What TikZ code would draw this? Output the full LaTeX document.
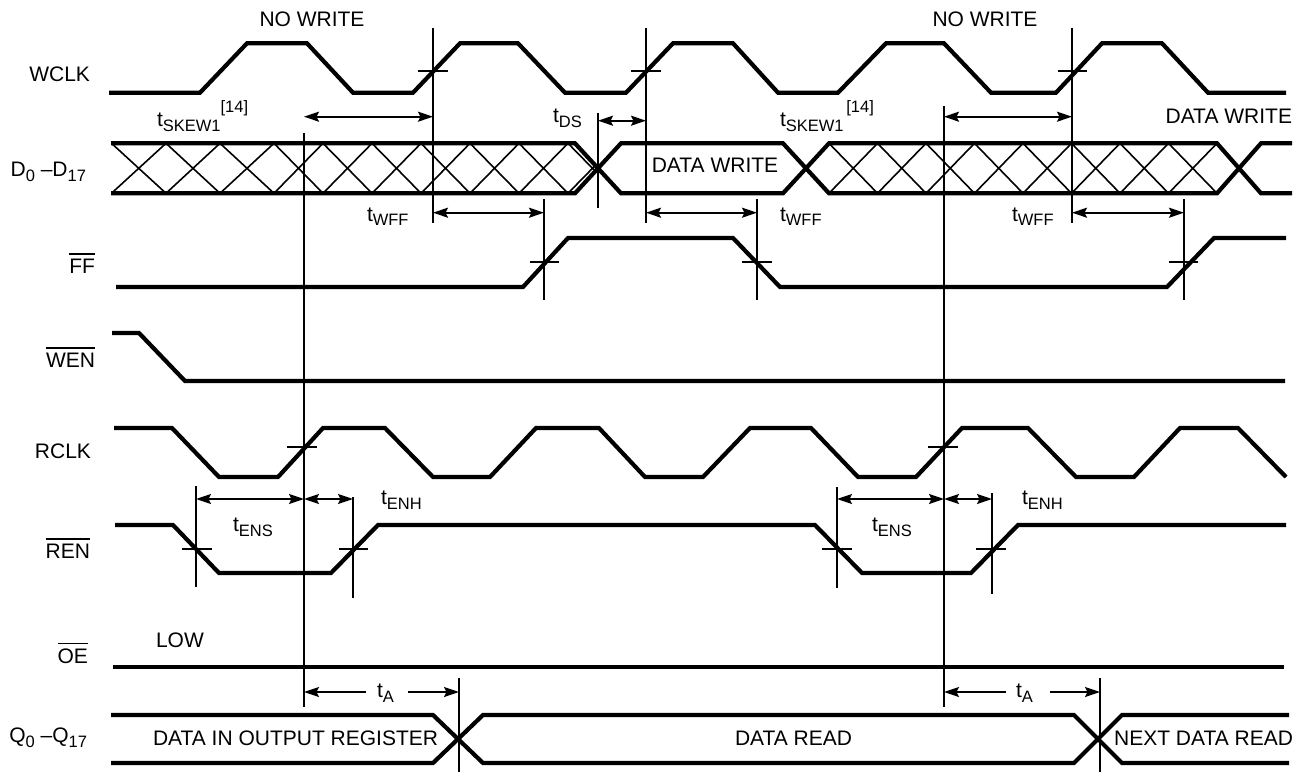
\documentclass[tikz,border=0pt]{standalone}
\usepackage{fontspec}
\setmainfont{Liberation Sans}
\usetikzlibrary{arrows.meta}
\newcommand\lsub[1]{\raisebox{-5pt}{\fontsize{16.5}{16.5}\selectfont #1}}
\newcommand\lsup[1]{\raisebox{14pt}{\fontsize{16.5}{16.5}\selectfont #1}}
\newcommand\barred[1]{\vbox{\hrule height 1.6pt\kern 4pt\hbox{#1}}}
\begin{document}
\begin{tikzpicture}[x=1pt,y=-1pt,
  every node/.style={inner sep=0pt, outer sep=0pt, font=\fontsize{21}{24}\selectfont},
  sig/.style={line width=4.2pt},
  thinline/.style={line width=1.9pt},
  hatchline/.style={line width=1.6pt},
  dimarrow/.style={line width=1.9pt, {Stealth[length=15pt,width=10pt,inset=2.5pt]}-{Stealth[length=15pt,width=10pt,inset=2.5pt]}},
  onearrow/.style={line width=1.9pt, -{Stealth[length=15pt,width=10pt,inset=2.5pt]}},
]
\useasboundingbox (0,0) rectangle (1315,773);

% ---------- signal names ----------
\node[anchor=base east] (nwclk) at (90,82) {WCLK};
\node[anchor=base east] (nd) at (86,177) {D\lsub{0} --D\lsub{17}};
\node[anchor=base east] (nff) at (95,273) {\barred{FF}};
\node[anchor=base east] (nwen) at (95,367) {\barred{WEN}};
\node[anchor=base east] (nrclk) at (91,458) {RCLK};
\node[anchor=base east] (nren) at (90,558) {\barred{REN}};
\node[anchor=base east] (noe) at (88,663) {\barred{OE}};
\node[anchor=base east] (nq) at (87,742) {Q\lsub{0} --Q\lsub{17}};

% ---------- WCLK ----------
\draw[sig] (109,92.7) -- (200,92.7) -- (247,43.3) -- (307,43.3) -- (353,92.7) -- (413,92.7)
  -- (460,43.3) -- (518,43.3) -- (565,92.7) -- (626,92.7) -- (673,43.3) -- (733,43.3)
  -- (778,92.7) -- (838,92.7) -- (886,43.3) -- (944,43.3) -- (991,92.7) -- (1056,92.7)
  -- (1102,43.3) -- (1162,43.3) -- (1208,92.7) -- (1286,92.7);

% ---------- D bus hatch ----------
\begin{scope}
  \clip (111,143.3) -- (575,143.3) -- (598,168.3) -- (575,193.3) -- (111,193.3) -- cycle;
  \foreach \a/\b in {111.5/166,166/220,220/274,274/323,323/372,372/421,421/470,470/519,519/568,568/617}
    \draw[hatchline] (\a,143.3) -- (\b,193.3) (\a,193.3) -- (\b,143.3);
\end{scope}
\begin{scope}
  \clip (806,168.3) -- (829,143.3) -- (1217,143.3) -- (1239,168.3) -- (1217,193.3) -- (829,193.3) -- cycle;
  \foreach \i in {-1,...,8}
    \draw[hatchline] (829+48.5*\i,143.3) -- (877.5+48.5*\i,193.3) (829+48.5*\i,193.3) -- (877.5+48.5*\i,143.3);
\end{scope}
\draw[sig] (111,143.3) -- (575,143.3) -- (621,193.3) -- (783,193.3) -- (829,143.3) -- (1217,143.3) -- (1261,193.3) -- (1292,193.3);
\draw[sig] (111,193.3) -- (575,193.3) -- (621,143.3) -- (783,143.3) -- (829,193.3) -- (1217,193.3) -- (1261,143.3) -- (1292,143.3);

% ---------- FF, WEN ----------
\draw[sig] (116,287) -- (523,287) -- (568,238) -- (733,238) -- (780,287) -- (1167,287) -- (1214,238) -- (1286,238);
\draw[sig] (112,333) -- (139,333) -- (185,381) -- (1285,381);

% ---------- RCLK ----------
\draw[sig] (114,428) -- (172,428) -- (219,477) -- (278,477) -- (323,428) -- (385,428) -- (433,477)
  -- (490,477) -- (536,428) -- (599,428) -- (645,477) -- (703,477) -- (750,428) -- (811,428)
  -- (858,477) -- (916,477) -- (962,428) -- (1028,428) -- (1076,477) -- (1134,477) -- (1180,428)
  -- (1238,428) -- (1286,477);

% ---------- REN, OE ----------
\draw[sig] (115,525) -- (173,525) -- (219,573) -- (331,573) -- (378,525) -- (815,525) -- (862,573) -- (971,573) -- (1018,525) -- (1286,525);
\draw[sig] (113,667) -- (1284,667);

% ---------- Q bus ----------
\draw[sig] (111,715) -- (433,715) -- (483,763) -- (1074,763) -- (1122,715) -- (1289,715);
\draw[sig] (111,763) -- (433,763) -- (483,715) -- (1074,715) -- (1122,763) -- (1289,763);

% ---------- vertical reference lines ----------
\draw[thinline] (433,28) -- (433,223);
\draw[thinline] (646,28) -- (646,223);
\draw[thinline] (1072,28) -- (1072,223);
\draw[thinline] (598,113) -- (598,208);
\draw[thinline] (544,199) -- (544,300);
\draw[thinline] (757,199) -- (757,300);
\draw[thinline] (1184,199) -- (1184,300);
\draw[thinline] (304,133) -- (304,707);
\draw[thinline] (944,106) -- (944,707);
\draw[thinline] (196,486) -- (196,587);
\draw[thinline] (353,497) -- (353,598);
\draw[thinline] (837,487) -- (837,588);
\draw[thinline] (992,493) -- (992,594);
\draw[thinline] (459,678) -- (459,772);
\draw[thinline] (1100,678) -- (1100,772);

% ---------- crossing ticks ----------
\draw[thinline] (418,71) -- (448,71) (631,71) -- (661,71) (1058,71) -- (1087,71);
\draw[thinline] (530,262) -- (559,262) (742,262) -- (772,262) (1169,262) -- (1198,262);
\draw[thinline] (287,447) -- (317,447) (928,447) -- (958,447);
\draw[thinline] (182,549) -- (212,549) (339,549) -- (368,549) (822,549) -- (852,549) (976,549) -- (1006,549);

% ---------- dimension arrows ----------
\draw[dimarrow] (304,116.7) -- (433,116.7);
\draw[dimarrow] (598,120.7) -- (646,120.7);
\draw[dimarrow] (944,116.7) -- (1072,116.7);
\draw[dimarrow] (433,212.7) -- (544,212.7);
\draw[dimarrow] (646,212.7) -- (757,212.7);
\draw[dimarrow] (1072,212.7) -- (1184,212.7);
\draw[dimarrow] (196,499) -- (304,499);
\draw[dimarrow] (304,499) -- (353,499);
\draw[dimarrow] (837,499) -- (944,499);
\draw[dimarrow] (944,499) -- (992,499);
\draw[onearrow] (366,692) -- (304,692);
\draw[onearrow] (408,692) -- (459,692);
\draw[onearrow] (1006,692) -- (944,692);
\draw[onearrow] (1050,692) -- (1100,692);

% ---------- timing labels ----------
\node[anchor=base west] (skew1) at (157,127) {t\lsub{SKEW1}\lsup{[14]}};
\node[anchor=base west] (skew2) at (780,127) {t\lsub{SKEW1}\lsup{\,[14]}};
\node[anchor=base west] (tds) at (553,123) {t\lsub{DS}};
\node[anchor=base west] (twff1) at (367,221) {t\lsub{WFF}};
\node[anchor=base west] (twff2) at (780,221) {t\lsub{WFF}};
\node[anchor=base west] (twff3) at (1012,221) {t\lsub{WFF}};
\node[anchor=base west] (tens1) at (233,531) {t\lsub{ENS}};
\node[anchor=base west] (tens2) at (872,531) {t\lsub{ENS}};
\node[anchor=base west] (tenh1) at (381,504) {t\lsub{ENH}};
\node[anchor=base west] (tenh2) at (1022,504) {t\lsub{ENH}};
\node[anchor=base west] (ta1) at (377,697) {t\lsub{A}};
\node[anchor=base west] (ta2) at (1016,697) {t\lsub{A}};

% ---------- other text ----------
\node[anchor=base] (nowrite1) at (312,27) {NO WRITE};
\node[anchor=base] (nowrite2) at (985,27) {NO WRITE};
\node[anchor=base east] (dwtop) at (1292,124) {DATA WRITE};
\node[anchor=base] (dwbus) at (715,173) {DATA WRITE};
\node[anchor=base west] (low) at (156,647) {LOW};
\node[anchor=base west] (dout) at (153,745) {DATA IN OUTPUT REGISTER};
\node[anchor=base west] (dread) at (735,745) {DATA READ};
\node[anchor=base east] (dnext) at (1293,745) {NEXT DATA READ};
\end{tikzpicture}
\end{document}
